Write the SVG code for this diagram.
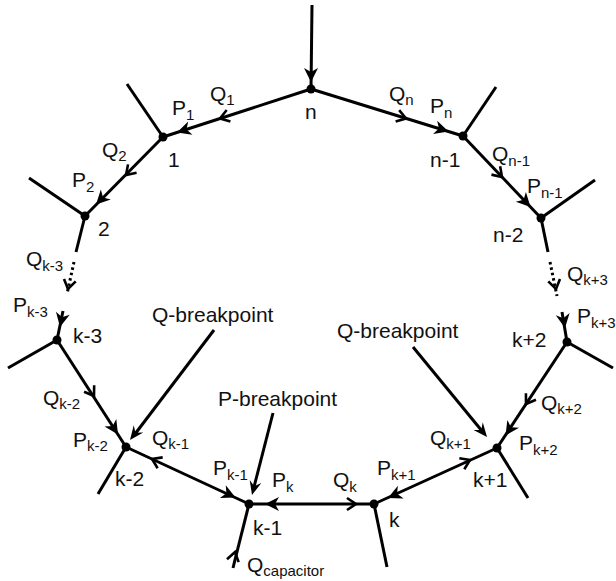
<svg xmlns="http://www.w3.org/2000/svg" xmlns:xlink="http://www.w3.org/1999/xlink" width="616" height="581" viewBox="0 0 616 581">
<style>
.ln{stroke:#000;stroke-width:3;fill:none}
.dot{stroke:#000;stroke-width:3;fill:none;stroke-dasharray:2.5 3}
.t{font-family:"Liberation Sans",Arial,sans-serif;font-size:21px;fill:#111}
.s{font-size:15px}
.nd{fill:#000}
</style>
<defs>
<path id="tri" d="M0,0 L-14,-7 L-10,0 L-14,7 Z" fill="#000"/>
<path id="chev" d="M-9,-6 L0,0 L-9,6" fill="none" stroke="#000" stroke-width="2.6"/>
<path id="stl" d="M0,0 L-14,-6 L-9,0 L-14,6 Z" fill="#000"/>
</defs>
<rect width="616" height="581" fill="#fff"/>
<g id="connectors">
<line class="ln" x1="312" y1="5" x2="311" y2="89"/>
<use href="#tri" transform="translate(311,82) rotate(90)"/>
<line class="ln" x1="311" y1="89" x2="163" y2="137"/>
<use href="#chev" transform="translate(220,118.5) rotate(162)"/>
<use href="#tri" transform="translate(177,132.5) rotate(162)"/>
<line class="ln" x1="163" y1="137" x2="127" y2="84"/>
<line class="ln" x1="163" y1="137" x2="85" y2="216"/>
<use href="#chev" transform="translate(126,175) rotate(134.6)"/>
<use href="#tri" transform="translate(96,204.5) rotate(134.6)"/>
<line class="ln" x1="85" y1="216" x2="29" y2="178"/>
<line class="ln" x1="311" y1="89" x2="463" y2="136"/>
<use href="#chev" transform="translate(406,118.5) rotate(17.2)"/>
<use href="#tri" transform="translate(448.5,131.5) rotate(17.2)"/>
<line class="ln" x1="463" y1="136" x2="496" y2="87"/>
<line class="ln" x1="463" y1="136" x2="541" y2="218"/>
<use href="#chev" transform="translate(502,177) rotate(46.4)"/>
<use href="#tri" transform="translate(530.5,207) rotate(46.4)"/>
<line class="ln" x1="541" y1="218" x2="595" y2="180"/>
<line class="ln" x1="85" y1="216" x2="76" y2="252"/>
<line class="dot" x1="74" y1="262" x2="67" y2="294"/>
<use href="#chev" transform="translate(68,289) rotate(102)"/>
<line class="ln" x1="63" y1="311" x2="57" y2="340"/>
<use href="#tri" transform="translate(60,327) rotate(101.7)"/>
<line class="ln" x1="541" y1="218" x2="548" y2="252"/>
<line class="dot" x1="550" y1="262" x2="557" y2="296"/>
<use href="#chev" transform="translate(556,289) rotate(78)"/>
<line class="ln" x1="562" y1="312" x2="567" y2="342"/>
<use href="#tri" transform="translate(565,328) rotate(80.5)"/>
<line class="ln" x1="57" y1="340" x2="8" y2="368"/>
<line class="ln" x1="57" y1="340" x2="126" y2="447"/>
<use href="#chev" transform="translate(94,396) rotate(57.2)"/>
<use href="#tri" transform="translate(118,434.5) rotate(57.2)"/>
<line class="ln" x1="126" y1="447" x2="98" y2="494"/>
<line class="ln" x1="126" y1="447" x2="249" y2="504"/>
<use href="#chev" transform="translate(152,459) rotate(204.9)"/>
<use href="#tri" transform="translate(235.5,497.5) rotate(24.9)"/>
<line class="ln" x1="249" y1="504" x2="374" y2="504"/>
<use href="#tri" transform="translate(265,504) rotate(180)"/>
<use href="#chev" transform="translate(356,504)"/>
<line class="ln" x1="249" y1="504" x2="233" y2="568"/>
<use href="#chev" transform="translate(235,552) rotate(-76)"/>
<line class="ln" x1="374" y1="504" x2="387" y2="567"/>
<line class="ln" x1="374" y1="504" x2="497" y2="448"/>
<use href="#tri" transform="translate(388,498) rotate(155.5)"/>
<use href="#chev" transform="translate(470,460) rotate(-24.5)"/>
<line class="ln" x1="497" y1="448" x2="528" y2="498"/>
<line class="ln" x1="567" y1="342" x2="497" y2="448"/>
<use href="#chev" transform="translate(526,404) rotate(123.4)"/>
<use href="#tri" transform="translate(505.5,435.5) rotate(123.4)"/>
<line class="ln" x1="567" y1="342" x2="613" y2="368"/>
<line class="ln" x1="214" y1="330" x2="135" y2="434"/>
<use href="#stl" transform="translate(130,440) rotate(127.4)"/>
<line class="ln" x1="413" y1="347" x2="482" y2="431"/>
<use href="#stl" transform="translate(487,437) rotate(50.6)"/>
<line class="ln" x1="273" y1="413" x2="254" y2="487"/>
<use href="#stl" transform="translate(252,495) rotate(104.5)"/>
</g>
<g id="node-n"><circle class="nd" cx="311" cy="89" r="4.5"/><text class="t" x="305" y="119">n</text></g>
<g id="node-1"><circle class="nd" cx="163" cy="137" r="4.5"/><text class="t" x="168" y="167">1</text></g>
<g id="node-2"><circle class="nd" cx="85" cy="216" r="4.5"/><text class="t" x="98" y="236">2</text></g>
<g id="node-n-1"><circle class="nd" cx="463" cy="136" r="4.5"/><text class="t" x="430" y="167">n-1</text></g>
<g id="node-n-2"><circle class="nd" cx="541" cy="218" r="4.5"/><text class="t" x="493" y="242">n-2</text></g>
<g id="node-k-3"><circle class="nd" cx="57" cy="340" r="4.5"/><text class="t" x="73" y="343">k-3</text></g>
<g id="node-k+2"><circle class="nd" cx="567" cy="342" r="4.5"/><text class="t" x="512" y="347">k+2</text></g>
<g id="node-k-2"><circle class="nd" cx="126" cy="447" r="4.5"/><text class="t" x="115" y="486">k-2</text></g>
<g id="node-k-1"><circle class="nd" cx="249" cy="504" r="4.5"/><text class="t" x="253" y="535">k-1</text></g>
<g id="node-k"><circle class="nd" cx="374" cy="504" r="4.5"/><text class="t" x="389" y="527">k</text></g>
<g id="node-k+1"><circle class="nd" cx="497" cy="448" r="4.5"/><text class="t" x="473" y="487">k+1</text></g>
<g id="labels" class="t">
<text x="210" y="101">Q<tspan class="s" dy="4">1</tspan></text>
<text x="172" y="115">P<tspan class="s" dy="5">1</tspan></text>
<text x="102" y="157">Q<tspan class="s" dy="4">2</tspan></text>
<text x="72" y="187">P<tspan class="s" dy="5">2</tspan></text>
<text x="389" y="101">Q<tspan class="s" dy="4">n</tspan></text>
<text x="430" y="113">P<tspan class="s" dy="5">n</tspan></text>
<text x="492" y="161">Q<tspan class="s" dy="5">n-1</tspan></text>
<text x="527" y="193">P<tspan class="s" dy="5">n-1</tspan></text>
<text x="26" y="266">Q<tspan class="s" dy="5">k-3</tspan></text>
<text x="13" y="312">P<tspan class="s" dy="5">k-3</tspan></text>
<text x="567" y="281">Q<tspan class="s" dy="4">k+3</tspan></text>
<text x="577" y="323">P<tspan class="s" dy="5">k+3</tspan></text>
<text x="152" y="322">Q-breakpoint</text>
<text x="337" y="338">Q-breakpoint</text>
<text x="218" y="406">P-breakpoint</text>
<text x="43" y="405">Q<tspan class="s" dy="4">k-2</tspan></text>
<text x="73" y="447">P<tspan class="s" dy="4">k-2</tspan></text>
<text x="152" y="445">Q<tspan class="s" dy="4">k-1</tspan></text>
<text x="213" y="475">P<tspan class="s" dy="5">k-1</tspan></text>
<text x="272" y="487">P<tspan class="s" dy="5">k</tspan></text>
<text x="247" y="572">Q<tspan class="s" dy="4">capacitor</tspan></text>
<text x="333" y="487">Q<tspan class="s" dy="5">k</tspan></text>
<text x="377" y="475">P<tspan class="s" dy="5">k+1</tspan></text>
<text x="430" y="445">Q<tspan class="s" dy="4">k+1</tspan></text>
<text x="541" y="410">Q<tspan class="s" dy="4">k+2</tspan></text>
<text x="519" y="450">P<tspan class="s" dy="5">k+2</tspan></text>
</g>
</svg>
